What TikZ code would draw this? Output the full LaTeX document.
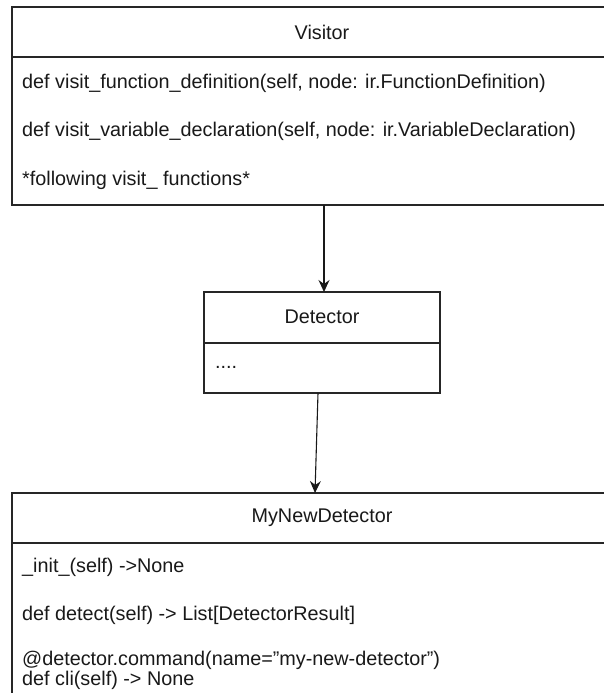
\documentclass[tikz,border=0pt]{standalone}
\usepackage{fontspec}
\setmainfont{Liberation Sans}
\usetikzlibrary{arrows.meta}
\begin{document}
\begin{tikzpicture}[x=1pt,y=-1pt,
  box/.style={draw=black!85, line width=1.1pt, rectangle, anchor=north west, inner sep=0pt, outer sep=0pt},
  txt/.style={anchor=west, inner sep=0pt, font=\fontsize{19.8}{20}\selectfont, text=black!90},
  ttl/.style={inner sep=0pt, font=\fontsize{19.8}{20}\selectfont, text=black!90},
  conn/.style={draw=black!90, line width=1.1pt, -{Stealth[length=12pt,width=11pt,inset=4pt]}}]
\useasboundingbox (0,0) rectangle (604,693);
\clip (0,0) rectangle (604,693);
\fill[white] (0,0) rectangle (604,693);
% Visitor
\node[box, minimum width=610pt, minimum height=50pt] (visitor) at (12,7) {};
\node[box, minimum width=610pt, minimum height=148pt] (visitorbody) at (12,57) {};
\node[ttl] (visitorname) at (322,32) {Visitor};
\node[txt] (v1) at (22,83) {def visit\_function\_definition(self, node: ir.FunctionDefinition)};
\node[txt] (v2) at (22,131) {def visit\_variable\_declaration(self, node: ir.VariableDeclaration)};
\node[txt] (v3) at (22,180) {*following visit\_ functions*};
% Detector
\node[box, minimum width=236pt, minimum height=51pt] (detector) at (204,292) {};
\node[box, minimum width=236pt, minimum height=50pt] (detectorbody) at (204,343) {};
\node[ttl] (detectorname) at (322,317) {Detector};
\node[txt] (d1) at (215,367) {....};
% MyNewDetector
\node[box, minimum width=610pt, minimum height=50pt] (mynew) at (12,493) {};
\node[box, minimum width=610pt, minimum height=220pt] (mynewbody) at (12,543) {};
\node[ttl] (mynewname) at (322,518) {MyNewDetector};
\node[txt] (m1) at (22,567) {\_init\_(self) ->None};
\node[txt] (m2) at (22,615) {def detect(self) -> List[DetectorResult]};
\node[txt, align=left] (m3) at (22,670) {@detector.command(name=\symbol{34}my-new-detector\symbol{34})\\def cli(self) -> None};
% connectors
\coordinate (a1) at (324,205);
\coordinate (b1) at (318,393);
\coordinate (b2) at (315,493);
\draw[conn] (visitorbody.south -| a1) -- (detector.north -| a1);
\draw[conn] (b1) -- (b2);
\end{tikzpicture}
\end{document}
